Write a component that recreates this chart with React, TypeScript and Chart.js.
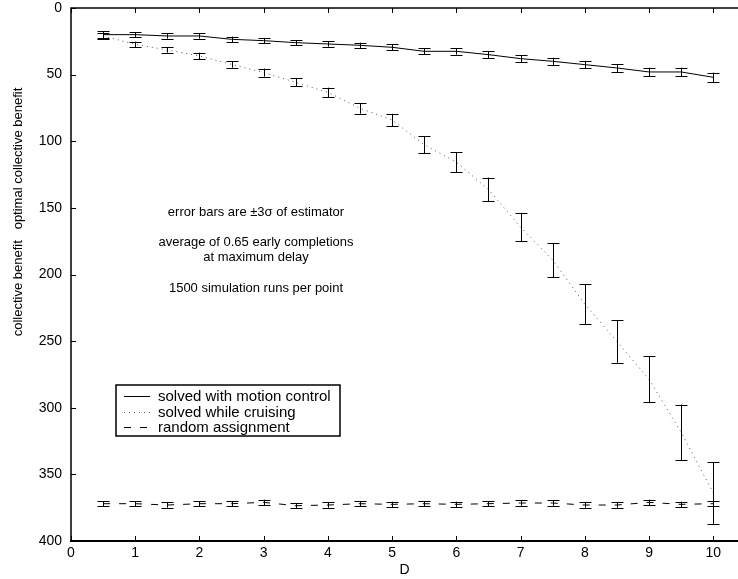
import { useEffect, useRef } from "react";
import { Chart, registerables } from "chart.js";

Chart.register(...registerables);

const dValues = [0.5, 1, 1.5, 2, 2.5, 3, 3.5, 4, 4.5, 5, 5.5, 6, 6.5, 7, 7.5, 8, 8.5, 9, 9.5, 10];
const motionControl = [20, 20, 21, 21, 23.5, 24.5, 26, 27, 28, 29.5, 32.5, 32.5, 35, 38, 40, 42.5, 45, 48, 48, 52];
const motionControlErr = [2.5, 2, 2, 2, 2, 2, 2, 2, 2, 2.2, 2.2, 2.5, 2.5, 2.5, 2.7, 2.8, 3, 3.2, 3.2, 3.5];
const whileCruising = [21, 27.3, 31.5, 36, 42.3, 48.5, 55.8, 63.3, 75.3, 84, 102.6, 115.7, 136.2, 164.5, 189.2, 222.3, 250.3, 278.7, 318.4, 363.9];
const whileCruisingErr = [2, 2, 2, 2.5, 2.5, 3, 3, 3.5, 4, 4.6, 6.5, 7.4, 8.9, 10.4, 12.7, 14.8, 15.9, 17.2, 20.8, 23.2];
const randomAssignment = [372, 372, 373, 372, 372, 371, 373.5, 373, 372, 372.5, 372, 372.5, 372, 371.5, 371.5, 373, 373, 371, 372.5, 372];
const randomAssignmentErr = [2, 2, 2, 2, 2, 2, 2, 2, 2, 2, 2, 2, 2, 2, 2, 2, 2, 2, 2, 2];

const xTickValues = [0, 1, 2, 3, 4, 5, 6, 7, 8, 9, 10];
const yTickValues = [0, 50, 100, 150, 200, 250, 300, 350, 400];
const seriesLabels = ["solved with motion control", "solved while cruising", "random assignment"];
const notes = [
  "error bars are \u00b13\u03c3 of estimator",
  "",
  "average of 0.65 early completions",
  "at maximum delay",
  "",
  "1500 simulation runs per point",
];
const yTitle = "collective benefit   optimal collective benefit";
const xTitle = "D";

const FONT = "'Liberation Sans', Arial, Helvetica, sans-serif";

const errArrays = [motionControlErr, whileCruisingErr, randomAssignmentErr];

const decorPlugin = {
  id: "decor",
  afterDatasetsDraw(chart: any) {
    const ctx = chart.ctx;
    const xs = chart.scales.x;
    const ys = chart.scales.y;
    ctx.save();
    ctx.strokeStyle = "#000";
    ctx.lineWidth = 1;
    chart.data.datasets.forEach((ds: any, i: number) => {
      const errs = errArrays[i];
      ds.data.forEach((p: any, j: number) => {
        const px = Math.round(xs.getPixelForValue(p.x)) + 0.5;
        const y1 = ys.getPixelForValue(p.y - errs[j]);
        const y2 = ys.getPixelForValue(p.y + errs[j]);
        const cap = 6;
        ctx.beginPath();
        ctx.moveTo(px, y1);
        ctx.lineTo(px, y2);
        ctx.moveTo(px - cap, Math.round(y1) + 0.5);
        ctx.lineTo(px + cap, Math.round(y1) + 0.5);
        ctx.moveTo(px - cap, Math.round(y2) + 0.5);
        ctx.lineTo(px + cap, Math.round(y2) + 0.5);
        ctx.stroke();
      });
    });
    ctx.restore();
  },
  afterDraw(chart: any) {
    const ctx = chart.ctx;
    const { left, right, top, bottom } = chart.chartArea;
    const xs = chart.scales.x;
    const ys = chart.scales.y;
    ctx.save();
    // frame
    ctx.strokeStyle = "#000";
    ctx.lineWidth = 1.5;
    ctx.beginPath();
    ctx.moveTo(right + 2, top);
    ctx.lineTo(left, top);
    ctx.lineTo(left, bottom);
    ctx.stroke();
    ctx.lineWidth = 2;
    ctx.beginPath();
    ctx.moveTo(left - 1, bottom);
    ctx.lineTo(right + 2, bottom);
    ctx.stroke();
    // ticks
    ctx.lineWidth = 1;
    const tl = 5;
    xTickValues.forEach((v) => {
      const px = Math.round(xs.getPixelForValue(v)) + 0.5;
      ctx.beginPath();
      ctx.moveTo(px, bottom);
      ctx.lineTo(px, bottom - tl);
      ctx.moveTo(px, top);
      ctx.lineTo(px, top + tl);
      ctx.stroke();
    });
    yTickValues.forEach((v) => {
      const py = Math.round(ys.getPixelForValue(v)) + 0.5;
      ctx.beginPath();
      ctx.moveTo(left, py);
      ctx.lineTo(left + tl, py);
      ctx.stroke();
    });
    // axis titles
    ctx.fillStyle = "#000";
    ctx.font = `14px ${FONT}`;
    ctx.textAlign = "center";
    ctx.textBaseline = "middle";
    ctx.fillText(xTitle, (left + right) / 2, 570);
    ctx.font = `13px ${FONT}`;
    ctx.save();
    ctx.translate(18, 212);
    ctx.rotate(-Math.PI / 2);
    ctx.fillText(yTitle, 0, 0);
    ctx.restore();
    // notes
    ctx.font = `13px ${FONT}`;
    let ny = 212;
    notes.forEach((t) => {
      if (t) ctx.fillText(t, 256, ny);
      ny += 15.3;
    });
    // legend
    const lx = 116, ly = 385, lw = 224, lh = 51;
    ctx.fillStyle = "#fff";
    ctx.fillRect(lx, ly, lw, lh);
    ctx.lineWidth = 1.5;
    ctx.strokeStyle = "#000";
    ctx.strokeRect(lx, ly, lw, lh);
    ctx.font = `15px ${FONT}`;
    ctx.textAlign = "left";
    ctx.fillStyle = "#000";
    chart.data.datasets.forEach((ds: any, i: number) => {
      const ry = ly + 11 + i * 15.5;
      ctx.save();
      ctx.strokeStyle = ds.borderColor;
      ctx.lineWidth = 1;
      ctx.setLineDash(ds.borderDash || []);
      ctx.beginPath();
      ctx.moveTo(lx + 8, Math.round(ry) + 0.5);
      ctx.lineTo(lx + 34, Math.round(ry) + 0.5);
      ctx.stroke();
      ctx.restore();
      ctx.fillText(ds.label, lx + 42, ry + 1);
    });
    ctx.restore();
  },
};

export default function App() {
  const ref = useRef<HTMLCanvasElement | null>(null);
  useEffect(() => {
    if (!ref.current) return;
    const mk = (ys: number[]) => dValues.map((x, i) => ({ x, y: ys[i] }));
    const chart = new Chart(ref.current, {
      type: "line",
      data: {
        datasets: [
          {
            label: seriesLabels[0],
            data: mk(motionControl),
            borderColor: "#000",
            borderWidth: 1,
            pointRadius: 0,
            fill: false,
          },
          {
            label: seriesLabels[1],
            data: mk(whileCruising),
            borderColor: "#555",
            borderWidth: 1,
            borderDash: [1, 4],
            pointRadius: 0,
            fill: false,
          },
          {
            label: seriesLabels[2],
            data: mk(randomAssignment),
            borderColor: "#000",
            borderWidth: 1,
            borderDash: [7, 9],
            pointRadius: 0,
            fill: false,
          },
        ],
      },
      options: {
        animation: false,
        responsive: false,
        layout: { padding: { top: 8, right: 0, left: 0, bottom: 0 } },
        plugins: { legend: { display: false }, tooltip: { enabled: false } },
        scales: {
          x: {
            type: "linear",
            min: 0,
            max: 10.385,
            afterFit: (s: any) => {
              s.height = 38;
              s.paddingLeft = 0;
              s.paddingRight = 0;
            },
            grid: { display: false, drawTicks: false },
            border: { display: false },
            ticks: {
              stepSize: 1,
              includeBounds: false,
              padding: 5,
              color: "#000",
              font: { family: FONT, size: 14, lineHeight: 1 },
              maxRotation: 0,
            },
          },
          y: {
            type: "linear",
            reverse: true,
            min: 0,
            max: 400,
            afterFit: (s: any) => {
              s.width = 71;
              s.paddingTop = 0;
              s.paddingBottom = 0;
            },
            grid: { display: false, drawTicks: false },
            border: { display: false },
            ticks: {
              stepSize: 50,
              padding: 9,
              color: "#000",
              font: { family: FONT, size: 14, lineHeight: 1 },
            },
          },
        },
      },
      plugins: [decorPlugin],
    } as any);
    return () => chart.destroy();
  }, []);
  return (
    <div style={{ position: "absolute", left: 0, top: 0, width: 738, height: 579, background: "#fff" }}>
      <canvas ref={ref} width={738} height={579} style={{ display: "block" }} />
    </div>
  );
}
